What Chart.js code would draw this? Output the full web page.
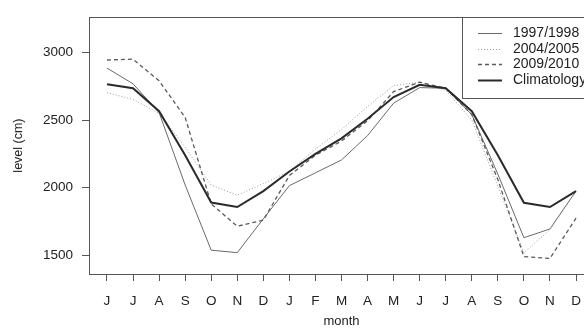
<!DOCTYPE html>
<html>
<head>
<meta charset="utf-8">
<script src="https://cdn.jsdelivr.net/npm/chart.js@4.4.1/dist/chart.umd.min.js"></script>
<style>
  html, body { margin: 0; padding: 0; background: #fff; overflow: hidden; }
  #wrap { width: 584px; height: 328px; overflow: hidden; }
</style>
</head>
<body>
<div id="wrap"><canvas id="levelChart" width="600" height="328"></canvas></div>
<script>
// month ticks, June of year 1 to December of year 2
const months = ["J", "J", "A", "S", "O", "N", "D", "J", "F", "M", "A", "M", "J", "J", "A", "S", "O", "N", "D"];
const yTicks = [1500, 2000, 2500, 3000];

// water level (cm)
const level1997 = [2884, 2768, 2555, 2020, 1538, 1520, 1770, 2015, 2110, 2205, 2385, 2625, 2740, 2735, 2540, 2100, 1630, 1695, 1976];
const level2004 = [2703, 2652, 2550, 2300, 2020, 1945, 2030, 2120, 2285, 2430, 2600, 2755, 2780, 2720, 2500, 2010, 1520, 1690, 1970];
const level2009 = [2944, 2950, 2790, 2520, 1880, 1715, 1760, 2090, 2240, 2345, 2495, 2710, 2780, 2735, 2540, 2060, 1490, 1477, 1775];
const climatology = [2765, 2735, 2565, 2240, 1890, 1857, 1975, 2120, 2250, 2365, 2510, 2670, 2760, 2735, 2565, 2240, 1888, 1857, 1975];

const FONT = "'Liberation Sans', Arial, sans-serif";

function toPoints(vals) {
  return vals.map((v, i) => ({ x: i + 1, y: v }));
}

// box round the plot plus the legend in the top right corner
const framePlugin = {
  id: "frame",
  afterDraw(chart) {
    const ctx = chart.ctx;
    const a = chart.chartArea;
    ctx.save();
    ctx.strokeStyle = "#555";
    ctx.lineWidth = 1;
    ctx.strokeRect(Math.round(a.left) + 0.5, Math.round(a.top) + 0.5,
      Math.round(a.right - a.left), Math.round(a.bottom - a.top));

    // legend
    const boxLeft = 462, boxTop = Math.round(a.top), boxH = 81;
    ctx.fillStyle = "#fff";
    ctx.fillRect(boxLeft, boxTop, a.right - boxLeft, boxH);
    ctx.strokeRect(boxLeft + 0.5, boxTop + 0.5, a.right - boxLeft, boxH);
    ctx.font = "14px " + FONT;
    ctx.textBaseline = "middle";
    ctx.textAlign = "left";
    const sets = chart.data.datasets;
    sets.forEach((ds, i) => {
      const y = boxTop + 16 + i * 15.7;
      ctx.beginPath();
      ctx.strokeStyle = ds.borderColor;
      ctx.lineWidth = ds.borderWidth;
      ctx.setLineDash(ds.borderDash || []);
      ctx.moveTo(478, Math.round(y) + 0.5);
      ctx.lineTo(502, Math.round(y) + 0.5);
      ctx.stroke();
      ctx.setLineDash([]);
      ctx.fillStyle = "#222";
      ctx.fillText(ds.label, 513, y);
    });
    ctx.restore();
  }
};

const ctx = document.getElementById("levelChart").getContext("2d");
new Chart(ctx, {
  type: "line",
  data: {
    datasets: [
      { label: "1997/1998", data: toPoints(level1997), borderColor: "#6a6a6a", borderWidth: 1, order: 3 },
      { label: "2004/2005", data: toPoints(level2004), borderColor: "#9a9a9a", borderWidth: 1, borderDash: [1, 2], order: 2 },
      { label: "2009/2010", data: toPoints(level2009), borderColor: "#5a5a5a", borderWidth: 1.3, borderDash: [4, 3], order: 1 },
      { label: "Climatology", data: toPoints(climatology), borderColor: "#2a2a2a", borderWidth: 2, order: 0 }
    ]
  },
  options: {
    responsive: false,
    animation: false,
    devicePixelRatio: 1,
    layout: { padding: { left: 0, right: 6, top: 12, bottom: 0 } },
    elements: { point: { radius: 0 }, line: { tension: 0 } },
    plugins: { legend: { display: false }, tooltip: { enabled: false } },
    scales: {
      x: {
        type: "linear",
        min: 0.31,
        max: 19.69,
        afterBuildTicks: (s) => { s.ticks = months.map((m, i) => ({ value: i + 1 })); },
        afterFit: (s) => { s.height = 54; },
        border: { display: false },
        grid: { drawOnChartArea: false, drawTicks: true, tickLength: 7, color: "#555" },
        ticks: {
          autoSkip: false,
          maxRotation: 0,
          padding: 12,
          color: "#222",
          font: { family: FONT, size: 13.5 },
          callback: (v) => months[v - 1]
        },
        title: {
          display: true,
          text: "month",
          color: "#222",
          font: { family: FONT, size: 13, lineHeight: 1 },
          padding: { top: 0, bottom: 0 }
        }
      },
      y: {
        min: 1362,
        max: 3261,
        afterBuildTicks: (s) => { s.ticks = yTicks.map((v) => ({ value: v })); },
        afterFit: (s) => { s.width = 89; },
        border: { display: false },
        grid: { drawOnChartArea: false, drawTicks: true, tickLength: 7, color: "#555" },
        ticks: {
          padding: 9,
          color: "#222",
          font: { family: FONT, size: 13.5 },
          callback: (v) => String(v)
        },
        title: {
          display: true,
          text: "level (cm)",
          color: "#222",
          font: { family: FONT, size: 12.5 },
          padding: { top: 11, bottom: 0 }
        }
      }
    }
  },
  plugins: [framePlugin]
});
</script>
</body>
</html>
